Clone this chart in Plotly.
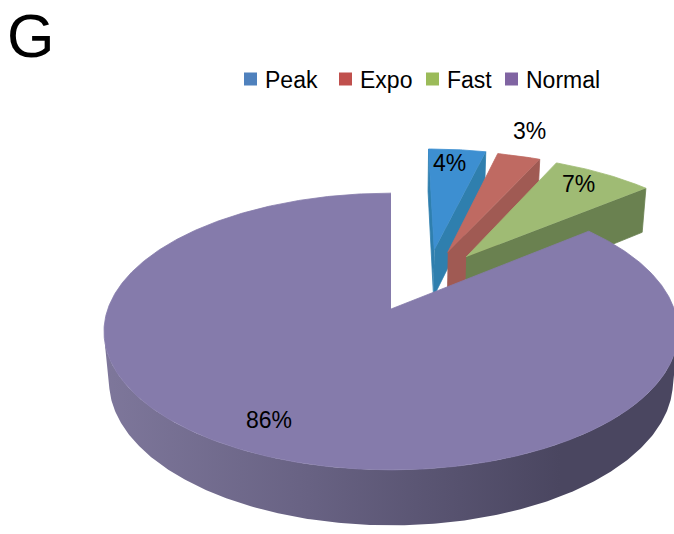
import numpy as np
import plotly.graph_objects as go

# ---- data ----
labels = ["Peak", "Expo", "Fast", "Normal"]
values = [4, 3, 7, 86]
pulled = [True, True, True, False]
legend_colors = ["#4f81bd", "#c0504d", "#9bbb59", "#8064a2"]
top_colors = ["#3d8fd1", "#bf6a62", "#9fbb74", "#857bab"]
side_colors = ["#2f7fae", "#a05a53", "#6a8150", "#4a4660"]

# ---- 3D pie geometry (unit radius, top face at z=0) ----
PULL = 0.5            # distance exploded slices move out
SPREAD = 0.5          # exploded slices' directions are drawn toward their group's mid-angle
THICK = 0.2           # pie thickness
TILT = np.radians(28.2)
DIST = 5.42           # camera distance
FX, FY = 1535.0, 1545.0
CX, CY = 391.0, 309.0
W, H = 674, 534

# legend layout (pixels)
LEGEND_X = [244, 339, 426, 505]
LEGEND_Y = 79
LEGEND_TEXT_GAP = 19

# percentage label placement: radius and angular nudge (degrees)
LABEL_R = [0.85, 1.3, 0.84, 0.82]
LABEL_DA = [-1.5, -1.5, -1.5, 2.5]

cs, sn = np.cos(TILT), np.sin(TILT)
CAM = np.array([0.0, -DIST * cs, DIST * sn])


def proj(x, y, z):
    x, y, z = np.asarray(x, float), np.asarray(y, float), np.asarray(z, float)
    depth = y * cs - z * sn + DIST
    up = y * sn + z * cs
    return CX + FX * x / depth, CY - FY * up / depth


total = sum(values)
bounds = np.concatenate([[0], np.cumsum(values)]) / total * 360.0
pulled_idx = [i for i, p in enumerate(pulled) if p]
group_mid = (bounds[pulled_idx[0]] + bounds[pulled_idx[-1] + 1]) / 2

slices = []
for i, v in enumerate(values):
    a, b = bounds[i], bounds[i + 1]
    mid = (a + b) / 2
    if pulled[i]:
        d = np.radians(group_mid + 3 + SPREAD * (mid - group_mid))
        off = np.array([PULL * np.sin(d), PULL * np.cos(d)])
    else:
        off = np.array([0.0, 0.0])
    slices.append(dict(i=i, a=a, b=b, mid=mid, off=off))


def faces_of(s):
    """Return visible faces of a slice as (xs, ys, kind) tuples."""
    i, a, b, off = s["i"], s["a"], s["b"], s["off"]
    th = np.radians(np.linspace(a, b, max(8, int((b - a) * 2))))
    rx, ry = off[0] + np.sin(th), off[1] + np.cos(th)
    out = []

    # curved outer side, only where it faces the camera
    nx, ny = np.sin(th), np.cos(th)
    vis = ((CAM[0] - rx) * nx + (CAM[1] - ry) * ny) > 0
    idx = np.where(vis)[0]
    if len(idx) > 1:
        segs = np.split(idx, np.where(np.diff(idx) > 1)[0] + 1)
        for seg in segs:
            if len(seg) < 2:
                continue
            xt, yt = proj(rx[seg], ry[seg], 0)
            xb, yb = proj(rx[seg], ry[seg], -THICK)
            out.append((np.r_[xt, xb[::-1]], np.r_[yt, yb[::-1]], "curve"))

    # flat radial faces
    for ang, n in ((a, (-np.cos(np.radians(a)), np.sin(np.radians(a)))),
                   (b, (np.cos(np.radians(b)), -np.sin(np.radians(b))))):
        t = np.radians(ang)
        px, py = off[0] + 0.5 * np.sin(t), off[1] + 0.5 * np.cos(t)
        if (CAM[0] - px) * n[0] + (CAM[1] - py) * n[1] > 1e-3:
            ex, ey = off[0] + np.sin(t), off[1] + np.cos(t)
            xs = [off[0], ex, ex, off[0]]
            ys = [off[1], ey, ey, off[1]]
            zs = [0, 0, -THICK, -THICK]
            X, Y = proj(xs, ys, zs)
            out.append((X, Y, "flat"))

    # top face
    X, Y = proj(np.r_[off[0], rx], np.r_[off[1], ry], 0)
    out.append((X, Y, "top"))
    return out


# draw back slices first, the unexploded slice last
order = sorted([s for s in slices if pulled[s["i"]]],
               key=lambda s: -(s["off"][1] + np.cos(np.radians(s["mid"]))))
order += [s for s in slices if not pulled[s["i"]]]

fig = go.Figure()
for s in order:
    i = s["i"]
    for X, Y, kind in faces_of(s):
        if kind == "top":
            col = top_colors[i]
            tr = go.Scatter(x=X, y=Y, fill="toself", fillcolor=col, mode="lines",
                            line=dict(color=col, width=0.8))
        elif kind == "curve" and not pulled[i]:
            tr = go.Scatter(
                x=X, y=Y, fill="toself", mode="lines", line=dict(width=0),
                fillgradient=dict(type="horizontal", start=103, stop=560,
                                  colorscale=[[0, "#7e779b"], [0.45, "#686283"],
                                              [1, side_colors[i]]]))
        else:
            col = side_colors[i]
            tr = go.Scatter(x=X, y=Y, fill="toself", fillcolor=col, mode="lines",
                            line=dict(color=col, width=0.8))
        tr.update(hoverinfo="skip", showlegend=False)
        fig.add_trace(tr)

# legend: square swatches followed by the series names
fig.add_trace(go.Scatter(
    x=[x + 6.5 for x in LEGEND_X], y=[LEGEND_Y] * len(labels), mode="markers",
    marker=dict(symbol="square", size=13, color=legend_colors, line=dict(width=0)),
    hoverinfo="skip", showlegend=False))
for lab, x in zip(labels, LEGEND_X):
    fig.add_annotation(x=x + LEGEND_TEXT_GAP, y=LEGEND_Y + 1, xref="x", yref="y",
                       xanchor="left", yanchor="middle", text=lab, showarrow=False,
                       font=dict(size=23, color="black"))

# percentage labels
for s in slices:
    i = s["i"]
    t = np.radians(s["mid"] + LABEL_DA[i])
    r = LABEL_R[i]
    X, Y = proj(s["off"][0] + r * np.sin(t), s["off"][1] + r * np.cos(t), 0)
    fig.add_annotation(x=float(X), y=float(Y), xref="x", yref="y",
                       text=f"{values[i]}%", showarrow=False,
                       font=dict(size=23, color="black"))

fig.add_annotation(x=5, y=0, xref="x", yref="y", xanchor="left", yanchor="top",
                   text="G", showarrow=False, font=dict(size=61, color="black"))

fig.update_layout(
    width=W, height=H, margin=dict(l=0, r=0, t=0, b=0),
    paper_bgcolor="white", plot_bgcolor="white",
    font=dict(family="Liberation Sans, Arial, sans-serif", color="black"),
    xaxis=dict(range=[0, W], visible=False, fixedrange=True),
    yaxis=dict(range=[H, 0], visible=False, fixedrange=True),
    showlegend=False,
)

fig.write_html("out.html")
